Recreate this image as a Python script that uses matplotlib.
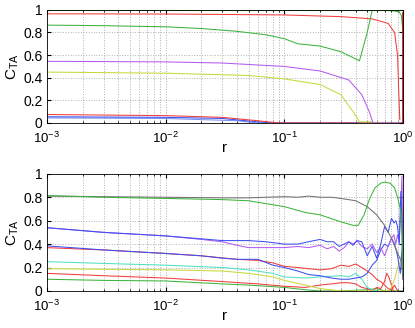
import matplotlib
matplotlib.use('Agg')
import matplotlib.pyplot as plt

plt.rcParams['font.family'] = ['Liberation Sans', 'DejaVu Sans']
plt.rcParams['mathtext.default'] = 'regular'

# --- top panel data ---
top_green_flat_r = [1e-3, 1.0]
top_green_flat_y = [0.999, 0.999]

top_green_r = [1e-3, 0.003, 0.01, 0.02, 0.04, 0.07, 0.1, 0.13, 0.2, 0.3, 0.43,
               0.5, 0.55, 0.7, 0.85, 0.93, 0.97, 0.99, 1.0]
top_green_y = [0.865, 0.86, 0.85, 0.835, 0.81, 0.78, 0.745, 0.70, 0.68, 0.63, 0.55,
               0.80, 0.995, 0.995, 0.99, 0.98, 0.95, 0.85, 0.80]

top_red_r = [1e-3, 0.01, 0.1, 0.3, 0.55, 0.75, 0.85, 0.9, 0.92, 0.94]
top_red_y = [0.965, 0.963, 0.955, 0.94, 0.92, 0.88, 0.80, 0.60, 0.30, 0.03]

top_darkred_r = [1.0, 1.0]
top_darkred_y = [0.0, 0.97]

top_purple_r = [1e-3, 0.01, 0.03, 0.1, 0.2, 0.35, 0.45, 0.52, 0.56, 1.0]
top_purple_y = [0.545, 0.54, 0.53, 0.50, 0.46, 0.38, 0.25, 0.10, 0.0, 0.0]

top_yellow_r = [1e-3, 0.01, 0.05, 0.1, 0.2, 0.3, 0.38, 0.43, 0.55, 0.56, 1.0]
top_yellow_y = [0.45, 0.44, 0.42, 0.39, 0.34, 0.25, 0.10, 0.01, 0.01, 0.0, 0.0]

top_red_low_r = [1e-3, 0.01, 0.03, 0.06, 0.09, 1.0]
top_red_low_y = [0.075, 0.065, 0.05, 0.02, 0.0, 0.0]

top_blue_r = [1e-3, 0.01, 0.03, 0.06, 0.08, 1.0]
top_blue_y = [0.055, 0.05, 0.04, 0.01, 0.0, 0.0]

top_lblue_r = [1e-3, 0.01, 0.04, 0.06, 1.0]
top_lblue_y = [0.045, 0.04, 0.02, 0.0, 0.0]

top_cyan_r = [1e-3, 1.0]
top_cyan_y = [0.003, 0.003]

# --- bottom panel data ---
bot_gray_r = [1e-3, 0.003, 0.01, 0.03, 0.05, 0.07, 0.1, 0.13, 0.16, 0.2, 0.25, 0.3,
              0.4, 0.5, 0.6, 0.7, 0.8, 0.88, 0.94, 0.97, 1.0]
bot_gray_y = [0.81, 0.805, 0.80, 0.795, 0.795, 0.80, 0.805, 0.80, 0.81, 0.80, 0.80, 0.79,
              0.77, 0.72, 0.65, 0.56, 0.45, 0.35, 0.28, 0.25, 0.10]

bot_green_r = [1e-3, 0.003, 0.01, 0.03, 0.05, 0.1, 0.15, 0.2, 0.3, 0.38, 0.42, 0.47,
               0.52, 0.58, 0.65, 0.7, 0.78, 0.85, 0.9, 0.95, 0.98, 1.0]
bot_green_y = [0.815, 0.80, 0.79, 0.78, 0.77, 0.72, 0.67, 0.65, 0.59, 0.56, 0.56, 0.65,
               0.78, 0.88, 0.92, 0.93, 0.92, 0.88, 0.80, 0.70, 0.50, 0.15]

bot_noisy_r = [1e-3, 0.003, 0.01, 0.02, 0.03, 0.04, 0.05, 0.07, 0.1, 0.13, 0.16, 0.2,
               0.23, 0.26, 0.29, 0.32, 0.35, 0.38, 0.41, 0.45, 0.5, 0.55, 0.6, 0.65,
               0.7, 0.75, 0.8, 0.84, 0.87, 0.9, 0.93, 0.96, 0.98, 1.0]
bot_purple_y = [0.54, 0.50, 0.47, 0.44, 0.42, 0.39, 0.37, 0.37, 0.37, 0.38, 0.37, 0.39,
                0.36, 0.38, 0.34, 0.37, 0.42, 0.40, 0.43, 0.38, 0.36, 0.40, 0.33, 0.37,
                0.30, 0.38, 0.45, 0.48, 0.40, 0.48, 0.42, 0.70, 0.98, 0.30]
bot_blue_y = [0.54, 0.50, 0.47, 0.445, 0.43, 0.43, 0.43, 0.42, 0.40, 0.40, 0.42, 0.44,
              0.42, 0.42, 0.38, 0.40, 0.42, 0.39, 0.43, 0.42, 0.30, 0.38, 0.28, 0.40,
              0.55, 0.50, 0.62, 0.58, 0.60, 0.55, 0.40, 0.85, 0.60, 0.10]

bot_blue_low_r = [1e-3, 0.003, 0.01, 0.02, 0.03, 0.04, 0.06, 0.08, 0.1, 0.13, 0.16, 0.2,
                  0.25, 0.3, 0.35, 0.4, 0.45, 0.5, 0.55, 0.6, 0.65, 0.7, 0.75, 0.8,
                  0.85, 0.9, 0.95, 1.0]
bot_blue_low_y = [0.385, 0.35, 0.32, 0.30, 0.28, 0.27, 0.27, 0.22, 0.20, 0.17, 0.14, 0.13,
                  0.11, 0.10, 0.10, 0.11, 0.12, 0.15, 0.22, 0.26, 0.35, 0.40, 0.38, 0.45,
                  0.40, 0.30, 0.15, 0.45]

bot_red_r = [1e-3, 0.003, 0.01, 0.02, 0.04, 0.06, 0.08, 0.1, 0.13, 0.16, 0.2, 0.25,
             0.3, 0.35, 0.4, 0.45, 0.5, 0.55, 0.6, 0.65, 0.7, 0.75, 0.8, 0.85, 0.9]
bot_red_y = [0.37, 0.35, 0.32, 0.30, 0.27, 0.26, 0.24, 0.21, 0.20, 0.19, 0.18, 0.19,
             0.22, 0.21, 0.23, 0.20, 0.17, 0.14, 0.10, 0.08, 0.05, 0.02, 0.01, 0.05, 0.0]

bot_cyan_r = [1e-3, 0.003, 0.01, 0.03, 0.05, 0.08, 0.1, 0.15, 0.2, 0.3, 0.35, 0.4,
              0.45, 0.5, 0.55, 0.6]
bot_cyan_y = [0.25, 0.235, 0.22, 0.20, 0.18, 0.15, 0.12, 0.11, 0.12, 0.13, 0.12, 0.15,
              0.10, 0.03, 0.01, 0.0]

bot_yellow_r = [1e-3, 0.003, 0.01, 0.03, 0.05, 0.08, 0.1, 0.15, 0.2, 0.3, 0.5, 0.7,
                0.78, 0.85, 0.9, 0.95, 1.0]
bot_yellow_y = [0.19, 0.185, 0.18, 0.17, 0.15, 0.12, 0.09, 0.05, 0.02, 0.0, 0.0, 0.0,
                0.01, 0.10, 0.20, 0.25, 0.40]

bot_red_low_r = [1e-3, 0.003, 0.01, 0.03, 0.06, 0.1, 0.15, 0.2, 0.25, 0.3, 0.35, 0.4,
                 0.45, 0.5, 0.55, 0.6, 0.65, 0.7, 0.73, 0.76, 0.8, 0.83]
bot_red_low_y = [0.15, 0.13, 0.11, 0.08, 0.06, 0.04, 0.03, 0.05, 0.06, 0.07, 0.07, 0.06,
                 0.03, 0.02, 0.0, 0.03, 0.02, 0.08, 0.15, 0.12, 0.05, 0.0]

bot_green_low_r = [1e-3, 0.003, 0.01, 0.03, 0.05, 0.1, 0.15, 0.2, 0.3, 0.5, 0.6, 0.7, 1.0]
bot_green_low_y = [0.10, 0.09, 0.085, 0.06, 0.05, 0.03, 0.01, 0.0, 0.0, 0.01, 0.02, 0.0, 0.0]

yticks = [0, 0.2, 0.4, 0.6, 0.8, 1]
ytick_labels = ['0', '0.2', '0.4', '0.6', '0.8', '1']

RED = '#f03c3c'
GREEN = '#3cb43c'
PURPLE = '#b45af0'
YELLOW = '#c8d83c'
BLUE = '#3c50f0'
LBLUE = '#7890f0'
CYAN = '#50e0c0'
GRAY = '#707070'
DARKRED = '#c01010'


def style_axes(ax):
    ax.set_xscale('log')
    ax.set_xlim(1e-3, 1)
    ax.set_ylim(0, 1)
    ax.set_yticks(yticks)
    ax.set_yticklabels(ytick_labels)
    ax.tick_params(which='both', direction='in', labelsize=10, top=True, right=True)
    ax.tick_params(which='major', length=3)
    ax.tick_params(which='minor', length=1.5)
    ax.tick_params(axis='x', which='major', pad=5.5, labelsize=9.5)
    ax.tick_params(axis='y', which='major', pad=3)
    ax.grid(True, which='major', linestyle=':', color='#b0b0b0', linewidth=0.7)
    ax.grid(True, which='minor', axis='x', linestyle=':', color='#b0b0b0', linewidth=0.7)
    for s in ax.spines.values():
        s.set_linewidth(0.6)
    ax.set_xlabel('r', fontsize=11, labelpad=-3.5)
    ax.set_ylabel('C$_{TA}$', fontsize=11, labelpad=2)


fig = plt.figure(figsize=(4.15, 3.28), dpi=100)
ax1 = fig.add_axes([0.113, 0.625, 0.858, 0.345])
ax2 = fig.add_axes([0.113, 0.113, 0.858, 0.357])

lw = 0.75
ax1.plot(top_cyan_r, top_cyan_y, color=CYAN, lw=lw)
ax1.plot(top_lblue_r, top_lblue_y, color=LBLUE, lw=lw)
ax1.plot(top_blue_r, top_blue_y, color=BLUE, lw=lw)
ax1.plot(top_red_low_r, top_red_low_y, color=RED, lw=lw)
ax1.plot(top_yellow_r, top_yellow_y, color=YELLOW, lw=lw)
ax1.plot(top_purple_r, top_purple_y, color=PURPLE, lw=lw)
ax1.plot(top_red_r, top_red_y, color=RED, lw=lw)
ax1.plot(top_green_flat_r, top_green_flat_y, color=GREEN, lw=lw)
ax1.plot(top_green_r, top_green_y, color=GREEN, lw=lw)
ax1.plot(top_darkred_r, top_darkred_y, color=DARKRED, lw=1.2, clip_on=False)
style_axes(ax1)

ax2.plot(bot_green_low_r, bot_green_low_y, color=GREEN, lw=lw)
ax2.plot(bot_red_low_r, bot_red_low_y, color=RED, lw=lw)
ax2.plot(bot_yellow_r, bot_yellow_y, color=YELLOW, lw=lw)
ax2.plot(bot_cyan_r, bot_cyan_y, color=CYAN, lw=lw)
ax2.plot(bot_red_r, bot_red_y, color=RED, lw=lw)
ax2.plot(bot_blue_low_r, bot_blue_low_y, color=BLUE, lw=lw)
ax2.plot(bot_noisy_r, bot_purple_y, color=PURPLE, lw=lw)
ax2.plot(bot_noisy_r, bot_blue_y, color=BLUE, lw=lw)
ax2.plot(bot_gray_r, bot_gray_y, color=GRAY, lw=lw)
ax2.plot(bot_green_r, bot_green_y, color=GREEN, lw=lw)
style_axes(ax2)

fig.savefig('out.png', dpi=100)
